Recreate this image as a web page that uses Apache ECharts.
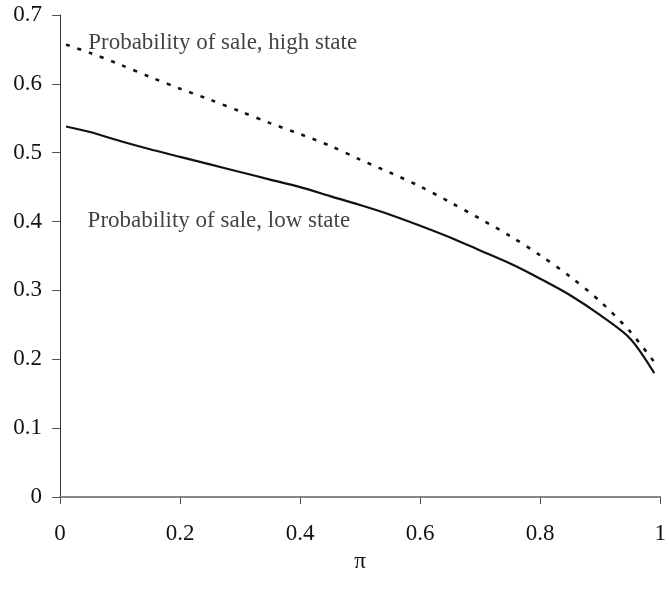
<!DOCTYPE html>
<html>
<head>
<meta charset="utf-8">
<script src="https://cdn.jsdelivr.net/npm/echarts@6/dist/echarts.min.js"></script>
<style>
  html, body { margin: 0; padding: 0; background: #fff; }
  #chart { width: 669px; height: 592px; }
</style>
</head>
<body>
<div id="chart"></div>
<script>
// pi values along the x axis
const piValues = [0.01, 0.05, 0.1, 0.15, 0.2, 0.25, 0.3, 0.35, 0.4, 0.45, 0.5,
  0.55, 0.6, 0.65, 0.7, 0.75, 0.8, 0.85, 0.9, 0.95, 0.99]
// probability of sale, high state (dotted)
const highState = [0.657, 0.645, 0.628, 0.610, 0.593, 0.577, 0.560, 0.543, 0.527, 0.510, 0.490,
  0.471, 0.451, 0.428, 0.404, 0.379, 0.351, 0.320, 0.284, 0.240, 0.196]
// probability of sale, low state (solid)
const lowState = [0.538, 0.530, 0.517, 0.505, 0.494, 0.483, 0.472, 0.461, 0.450, 0.437, 0.424,
  0.410, 0.394, 0.377, 0.358, 0.339, 0.317, 0.293, 0.264, 0.230, 0.180]
// curve labels: [x, y, text]
const curveLabels = [
  [0.047, 0.660, 'Probability of sale, high state'],
  [0.046, 0.401, 'Probability of sale, low state']
]

const font = "'Liberation Serif', 'Times New Roman', serif"
const chart = echarts.init(document.getElementById('chart'))

chart.setOption({
  animation: false,
  grid: { left: 60, right: 7, top: 15, bottom: 95, containLabel: false },
  xAxis: {
    type: 'value', min: 0, max: 1, interval: 0.2,
    name: 'π', nameLocation: 'middle', nameGap: 53,
    nameTextStyle: { color: '#111', fontSize: 23, fontFamily: font },
    axisLine: { lineStyle: { color: '#888', width: 2 } },
    axisTick: { show: true, length: 7, lineStyle: { color: '#555', width: 1 } },
    axisLabel: { color: '#111', fontSize: 23, fontFamily: font, margin: 25 },
    splitLine: { show: false }
  },
  yAxis: {
    type: 'value', min: 0, max: 0.7, interval: 0.1,
    axisLine: { show: true, lineStyle: { color: '#333', width: 1 } },
    axisTick: { show: true, length: 8, lineStyle: { color: '#555', width: 1 } },
    axisLabel: { color: '#111', fontSize: 23, fontFamily: font, margin: 18 },
    splitLine: { show: false }
  },
  series: [
    {
      name: 'high', type: 'line', showSymbol: false, smooth: 0.3,
      data: piValues.map((x, i) => [x, highState[i]]),
      lineStyle: { color: '#111', width: 2.6, type: [4, 8] }
    },
    {
      name: 'low', type: 'line', showSymbol: false, smooth: 0.3,
      data: piValues.map((x, i) => [x, lowState[i]]),
      lineStyle: { color: '#111', width: 2.2 }
    },
    {
      name: 'labels', type: 'scatter', symbolSize: 0, silent: true,
      data: curveLabels.map(d => ({ value: [d[0], d[1]], name: d[2] })),
      label: {
        show: true, position: 'right', distance: 0,
        formatter: p => p.name,
        color: '#111', fontSize: 23, fontFamily: font
      }
    }
  ]
})
</script>
</body>
</html>
